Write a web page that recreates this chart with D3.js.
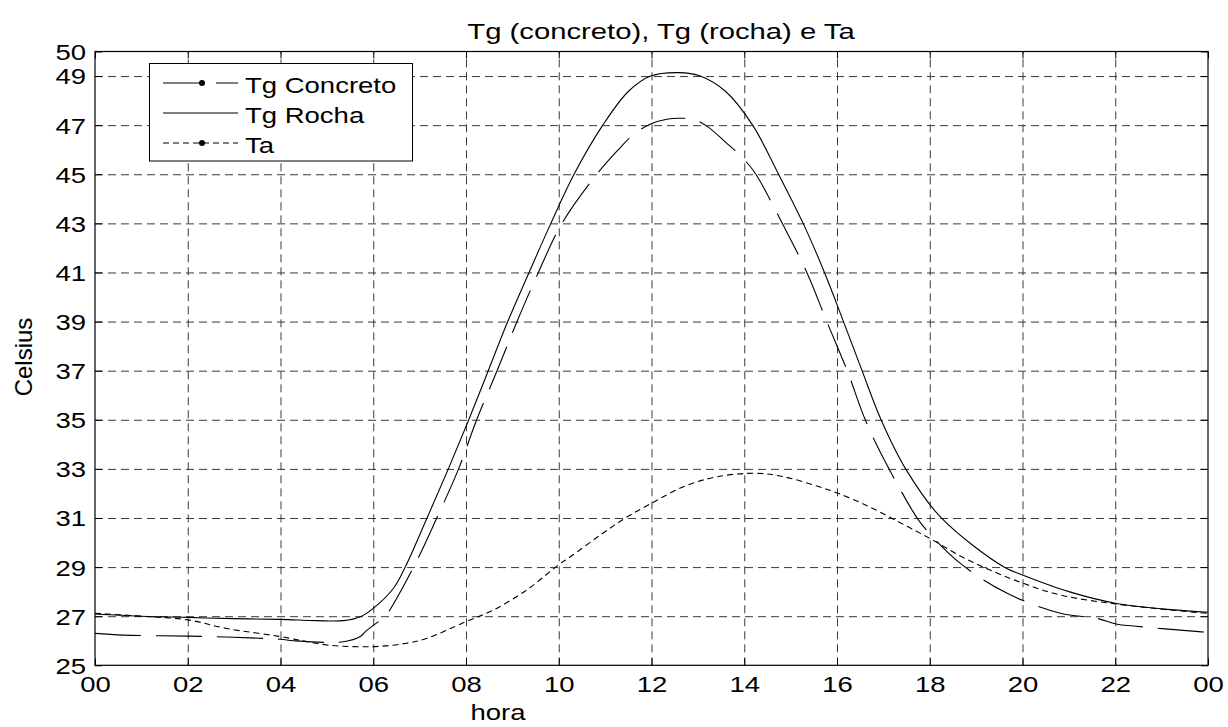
<!DOCTYPE html>
<html><head><meta charset="utf-8">
<script src="https://cdn.jsdelivr.net/npm/d3@7"></script>
<style>
body{margin:0;background:#fff;}
text{font-family:"Liberation Sans",Arial,Helvetica,sans-serif;fill:#000;}
</style>
</head><body>
<svg id="chart" width="1228" height="727"></svg>
<script>
// ---------- data ----------
const xTickValues = [0,2,4,6,8,10,12,14,16,18,20,22,24];
const xTickLabels = ["00","02","04","06","08","10","12","14","16","18","20","22","00"];
const yTickValues = [25,27,29,31,33,35,37,39,41,43,45,47,49,50];
const seriesNames = ["Tg Concreto","Tg Rocha","Ta"];
const titleText = "Tg (concreto), Tg (rocha) e Ta";
const xLabel = "hora";
const yLabel = "Celsius";

const concretoHour = [0,0.61,2,2.98,4,4.28,5.36,5.72,5.83,6.11,6.26,6.87,7.37,7.84,8.23,8.67,9.10,9.56,10.07,10.82,11.26,11.6,11.97,12.33,12.6,12.9,13.2,13.6,14.0,14.25,14.82,15.35,15.78,16.22,16.61,17.01,17.64,17.84,18.66,19.67,20.82,21.61,22.04,22.4,23.8,24];
const concretoTemp = [26.3,26.23,26.19,26.14,26.06,26.0,25.96,26.17,26.37,26.78,27.0,29.0,31.0,33.0,35.0,37.0,39.0,41.0,43.0,45.0,45.95,46.6,47.04,47.24,47.28,47.24,46.95,46.3,45.6,45.0,43.0,41.0,39.0,37.0,35.0,33.4,31.26,30.71,29.15,27.93,27.12,26.91,26.67,26.6,26.37,26.35];

const rochaHour = [0,1,2,3,4,4.78,5.36,5.72,6.0,6.44,6.69,7.16,7.62,8.06,8.48,8.9,9.36,9.83,10.33,10.95,11.5,11.98,12.59,13.05,13.6,14.18,14.74,15.27,15.73,16.14,16.54,16.95,17.48,18.25,19.6,20,21,22,23,24];
const rochaTemp = [27.09,27.0,26.95,26.9,26.87,26.82,26.82,26.98,27.32,28.15,29.0,31.0,33.0,35.0,37.0,39.0,41.0,43.0,45.0,47.0,48.37,49.0,49.14,49.0,48.37,47.0,45.0,43.0,41.0,39.0,37.0,35.0,33.0,31.0,29.0,28.68,28.0,27.53,27.3,27.16];

const taHour = [0,1,2,2.84,4,5,6,6.72,7.16,8,8.59,9.31,10,10.25,10.9,11.43,12,12.69,13.41,14.27,14.85,15.57,16,16.65,17.37,18,18.66,19.3,20,20.82,22,23.84,24];
const taTemp = [27.12,27.0,26.85,26.5,26.17,25.83,25.76,25.9,26.1,26.78,27.25,28.07,29.1,29.42,30.31,30.99,31.6,32.27,32.68,32.82,32.68,32.3,32.02,31.5,30.8,30.17,29.45,28.88,28.35,27.86,27.5,27.14,27.12];

// ---------- layout ----------
const L = 95, R = 1208, T = 51.5, B = 665.3;
const SX = 1.25;           // horizontal text stretch
const FS = 22;

const svg = d3.select("#chart");
const x = d3.scaleLinear().domain([0,24]).range([L,R]);
const y = d3.scaleLinear().domain([25,50]).range([B,T]);

// grid
const gridX = svg.append("g").attr("transform",`translate(0,${B})`)
  .call(d3.axisBottom(x).tickValues(xTickValues.slice(1,-1)).tickSize(-(B-T)).tickFormat(""));
const gridY = svg.append("g").attr("transform",`translate(${L},0)`)
  .call(d3.axisLeft(y).tickValues(yTickValues.slice(1,-1)).tickSize(-(R-L)).tickFormat(""));
[gridX,gridY].forEach(g=>{
  g.select(".domain").remove();
  g.selectAll("line").attr("stroke","#3a3a3a").attr("stroke-width",1).attr("stroke-dasharray","8,5");
});

// clip
svg.append("clipPath").attr("id","plotclip").append("rect")
  .attr("x",L).attr("y",T).attr("width",R-L).attr("height",B-T);

const line = d3.line().x(d=>x(d[0])).y(d=>y(d[1])).curve(d3.curveCatmullRom.alpha(0.5));
const plotG = svg.append("g").attr("clip-path","url(#plotclip)");
const series = [
  {h:concretoHour, t:concretoTemp, dash:"46,15"},
  {h:rochaHour, t:rochaTemp, dash:null},
  {h:taHour, t:taTemp, dash:"6,4"}
];
series.forEach(s=>{
  const p = plotG.append("path")
    .datum(s.h.map((h,i)=>[h,s.t[i]]))
    .attr("fill","none").attr("stroke","#000").attr("stroke-width",1.1)
    .attr("d",line);
  if(s.dash) p.attr("stroke-dasharray",s.dash);
});

// axes with inward ticks
const axB = svg.append("g").attr("transform",`translate(0,${B})`)
  .call(d3.axisBottom(x).tickValues(xTickValues).tickSize(-7).tickFormat((d,i)=>xTickLabels[i]));
axB.selectAll("text").attr("y",27).attr("dy",0).attr("font-size",FS)
  .attr("font-family",'"Liberation Sans",Arial,sans-serif').attr("fill","#000")
  .attr("transform",`scale(${SX},1)`);
const axT = svg.append("g").attr("transform",`translate(0,${T})`)
  .call(d3.axisTop(x).tickValues(xTickValues).tickSize(-7).tickFormat(""));
const axLft = svg.append("g").attr("transform",`translate(${L},0)`)
  .call(d3.axisLeft(y).tickValues(yTickValues).tickSize(-7).tickFormat(d=>d));
axLft.selectAll("text").attr("x",-9/SX).attr("dy","0.36em").attr("font-size",FS)
  .attr("font-family",'"Liberation Sans",Arial,sans-serif').attr("fill","#000")
  .attr("transform",`scale(${SX},1)`);
const axRt = svg.append("g").attr("transform",`translate(${R},0)`)
  .call(d3.axisRight(y).tickValues(yTickValues).tickSize(-7).tickFormat(""));
[axB,axT,axLft,axRt].forEach(g=>{
  g.select(".domain").remove();
  g.selectAll("line").attr("stroke","#000");
});

// frame
svg.append("rect").attr("x",L).attr("y",T).attr("width",R-L).attr("height",B-T)
  .attr("fill","none").attr("stroke","#000").attr("stroke-width",1.2);

// legend
const lg = svg.append("g");
lg.append("rect").attr("x",149.5).attr("y",63.5).attr("width",263).attr("height",97.5)
  .attr("fill","#fff").attr("stroke","#000").attr("stroke-width",1);
const legDash = ["39,14", null, "6,4"];
const legMarker = [true,false,true];
seriesNames.forEach((name,i)=>{
  const ly = 83 + i*30;
  const ln = lg.append("line").attr("x1",163).attr("x2",238).attr("y1",ly).attr("y2",ly)
    .attr("stroke","#000").attr("stroke-width",1.1);
  if(legDash[i]) ln.attr("stroke-dasharray",legDash[i]);
  if(legMarker[i]) lg.append("circle").attr("cx",202).attr("cy",ly).attr("r",3).attr("fill","#000");
  lg.append("text").attr("transform",`translate(245,${ly+10}) scale(${SX},1)`)
    .attr("font-size",FS).text(name);
});

// title & labels
svg.append("text").attr("transform",`translate(661,39) scale(1.33,1)`)
  .attr("text-anchor","middle").attr("font-size",FS).text(titleText);
svg.append("text").attr("transform",`translate(498,720) scale(${SX},1)`)
  .attr("text-anchor","middle").attr("font-size",FS).text(xLabel);
svg.append("text").attr("transform",`translate(32,357) rotate(-90)`)
  .attr("text-anchor","middle").attr("font-size",24).text(yLabel);
</script>
</body></html>
